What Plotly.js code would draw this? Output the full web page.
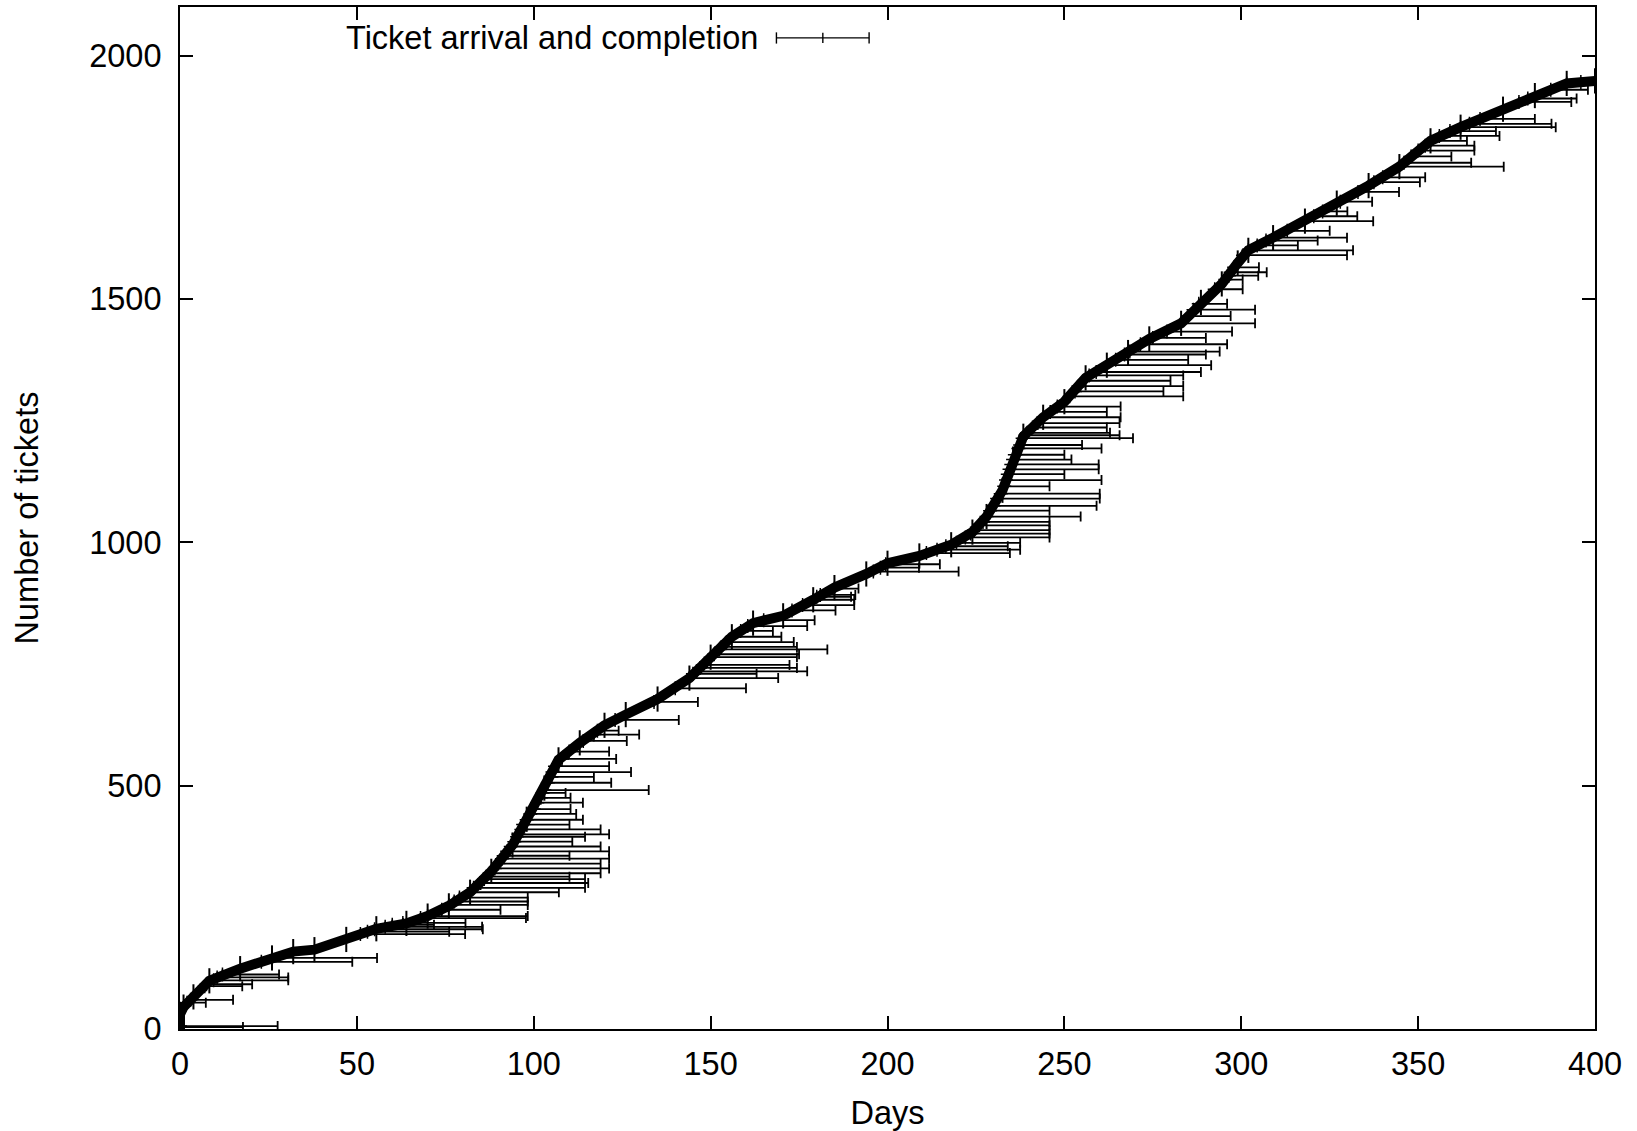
<!DOCTYPE html>
<html>
<head>
<meta charset="utf-8">
<script src="https://cdn.plot.ly/plotly-3.0.1.min.js"></script>
<style>html,body{margin:0;padding:0;background:#fff;}#chart{width:1637px;height:1131px;}</style>
</head>
<body>
<div id="chart"></div>
<script>
// Arrival curve (day, cumulative ticket number)
const curveDay = [0, 0, 1, 3.8, 8.3, 17, 26, 32, 38, 47, 55.5, 64, 70, 76, 82, 88, 94, 98, 103, 107, 113, 120, 126, 135, 144, 150, 156, 162, 170.5, 179, 185, 194, 200, 209, 218, 224, 228, 232.5, 235.5, 238.4, 244, 250, 256, 262, 268, 274, 283, 288.6, 294.5, 299, 302, 309, 318, 327, 336, 344.7, 353.5, 362, 374, 383, 392, 400];
const curveCount = [0, 30, 45, 66, 99, 124, 146, 159, 163, 184, 206, 217, 232, 253, 281, 324, 378, 431, 495, 553, 588, 624, 646, 678, 721, 764, 806, 834, 849, 882, 907, 935, 957, 972, 995, 1021, 1053, 1107, 1171, 1218, 1257, 1289, 1338, 1364, 1390, 1418, 1450, 1493, 1531, 1574, 1600, 1626, 1660, 1697, 1733, 1772, 1825, 1853, 1890, 1918, 1943, 1948];

// Long-lived tickets: ticket number, arrival day, completion day
const barTicket = [4, 6, 54, 60, 88, 92, 100, 106, 112, 138, 146, 195, 200, 205, 214, 218, 210, 228, 232, 245, 255, 262, 270, 281, 290, 300, 308, 313, 320, 330, 340, 350, 356, 365, 375, 385, 395, 400, 410, 420, 430, 442, 452, 465, 475, 485, 491, 506, 518, 528, 540, 555, 570, 592, 605, 613, 635, 672, 700, 721, 730, 735, 742, 748, 764, 770, 780, 785, 795, 806, 818, 828, 840, 860, 871, 882, 888, 892, 905, 940, 948, 955, 978, 985, 992, 999, 1010, 1018, 1025, 1035, 1042, 1053, 1065, 1075, 1090, 1100, 1115, 1128, 1140, 1150, 1160, 1170, 1180, 1193, 1200, 1214, 1220, 1225, 1236, 1245, 1257, 1268, 1279, 1300, 1310, 1321, 1332, 1343, 1350, 1364, 1375, 1386, 1392, 1407, 1420, 1433, 1450, 1465, 1478, 1490, 1520, 1540, 1548, 1555, 1565, 1590, 1600, 1610, 1620, 1626, 1640, 1660, 1670, 1680, 1700, 1720, 1740, 1750, 1772, 1780, 1793, 1805, 1815, 1825, 1835, 1845, 1853, 1860, 1870, 1905, 1912, 1930, 1943, 1946];
const barOpen = [0, 0, 2, 3, 7, 7.5, 9.5, 10.5, 12, 23, 26, 51, 53, 55, 60, 63, 58, 68, 70, 74, 76, 77.5, 79, 82, 83, 85, 86, 86.5, 87.5, 89, 90, 91, 91.5, 92.5, 93.5, 94.5, 95.3, 95.7, 96.5, 97, 98, 99, 100, 101, 102, 102.5, 103, 104, 105, 105.3, 106, 108, 110, 114, 117, 118, 123, 134, 140, 144, 145, 146, 147, 148, 150, 151, 152.5, 153, 154.5, 156, 158.5, 160.5, 165, 173, 176, 179, 180, 181, 185, 196, 198, 199.5, 211, 214, 216.5, 219.5, 222, 223.5, 224.5, 226, 227, 228, 229, 230, 231, 232, 233, 233.5, 234, 234.5, 235, 235.5, 236, 237, 237.5, 238.2, 239, 239.5, 241, 242.5, 244, 246, 248, 251.5, 253, 254, 255.5, 257, 259, 262, 264.5, 267, 268.5, 271.5, 275, 279, 283, 285, 286.5, 288, 292.5, 295.5, 296.5, 297, 298, 300.5, 302, 304.5, 307, 309, 313, 318, 320.5, 323, 328, 333, 337.5, 340, 344.7, 346, 348, 350, 352, 353.5, 356, 359, 362, 364.5, 367.5, 378.5, 381, 387.5, 392, 396];
const barClose = [17.8, 27.6, 7.3, 15, 17.6, 20.4, 30.6, 30.6, 28, 48.7, 55.7, 80.6, 76.1, 85.6, 71.8, 80.7, 85.4, 97.8, 98.3, 90.6, 98.3, 98.3, 98.3, 107.1, 114.5, 115.4, 114.5, 110.1, 118.9, 121.3, 118.9, 121.3, 110.1, 121.3, 118.9, 110.9, 114.5, 121.3, 118.9, 110.1, 113.9, 112, 110.4, 113.9, 110.4, 109, 132.5, 121.9, 117, 127.5, 121.3, 123.3, 121.3, 126.3, 129.8, 124, 141, 146.4, 160, 169.1, 163, 177.3, 174.4, 172.3, 174.4, 175, 183, 174.4, 173.5, 170, 167.6, 177.3, 179.4, 185.3, 190.6, 190.6, 189.7, 190.9, 191.8, 220.1, 208.9, 214.8, 234.6, 237.5, 234, 237.5, 245.8, 245.8, 245.8, 245.8, 245.8, 254.6, 245.8, 259.1, 260, 260, 245.8, 260.5, 250, 259.7, 259.7, 252, 250, 260.5, 255, 269.4, 265.6, 262.9, 262, 265.6, 265.9, 262, 265.9, 283.6, 278, 283.6, 280, 283.6, 288.6, 291.5, 285, 290, 293.9, 296, 290, 297.4, 303.9, 297, 303.9, 296, 300.4, 300.4, 304.8, 307.2, 305, 329.9, 331.6, 316, 321.6, 329.9, 325, 337.3, 332.8, 330, 337, 344.6, 350.5, 352, 374.2, 365, 359.4, 365.9, 365.9, 363.8, 373, 372, 388.9, 387.7, 383, 393.3, 394.8, 398, 400.7, 400];

const xTicks = [0, 50, 100, 150, 200, 250, 300, 350, 400];
const yTicks = [0, 500, 1000, 1500, 2000];

const FONT = 'Liberation Sans, Arial, sans-serif';
const FS = 32.5;

const traces = [
  {
    x: curveDay, y: curveCount, type: 'scatter', mode: 'lines+markers',
    line: {color: '#000', width: 10},
    marker: {symbol: 'line-ns-open', size: 18, line: {color: '#000', width: 2}},
    showlegend: false, hoverinfo: 'x+y'
  },
  {
    x: barOpen, y: barTicket, type: 'scatter', mode: 'markers',
    marker: {symbol: 'cross-thin-open', size: 10, color: '#000', line: {color: '#000', width: 1.5}},
    error_x: {
      type: 'data', symmetric: false,
      array: barClose.map((c, i) => c - barOpen[i]),
      arrayminus: barClose.map(() => 0),
      color: '#000', thickness: 1.8, width: 5
    },
    showlegend: false
  }
];

// legend geometry in paper coordinates
const lgY = 0.9697, lgX0 = 0.4215, lgX1 = 0.4870, lgXm = 0.4543;
const shapes = [
  {type: 'line', xref: 'paper', yref: 'paper', x0: lgX0, x1: lgX1, y0: lgY, y1: lgY, line: {color: '#000', width: 1.2}},
  {type: 'line', xref: 'paper', yref: 'paper', x0: lgX0, x1: lgX0, y0: lgY - 0.0055, y1: lgY + 0.0055, line: {color: '#000', width: 1.4}},
  {type: 'line', xref: 'paper', yref: 'paper', x0: lgX1, x1: lgX1, y0: lgY - 0.0055, y1: lgY + 0.0055, line: {color: '#000', width: 1.4}},
  {type: 'line', xref: 'paper', yref: 'paper', x0: lgXm, x1: lgXm, y0: lgY - 0.005, y1: lgY + 0.005, line: {color: '#000', width: 1.4}}
];

const axisCommon = {
  showline: true, linewidth: 2, linecolor: '#000', mirror: 'allticks',
  ticks: 'inside', ticklen: 13, tickwidth: 2, tickcolor: '#000',
  showgrid: false, zeroline: false,
  tickfont: {family: FONT, size: FS, color: '#000'}
};

const layout = {
  width: 1637, height: 1131,
  margin: {l: 180, r: 42, t: 7, b: 102, pad: 0},
  paper_bgcolor: '#fff', plot_bgcolor: '#fff',
  font: {family: FONT, size: FS, color: '#000'},
  showlegend: false,
  xaxis: Object.assign({}, axisCommon, {
    range: [0, 400], tickvals: xTicks, ticktext: xTicks.map(String),
    ticklabelstandoff: 5,
    title: {text: 'Days', font: {family: FONT, size: FS, color: '#000'}, standoff: 20}
  }),
  yaxis: Object.assign({}, axisCommon, {
    range: [0, 2100], tickvals: yTicks, ticktext: yTicks.map(String),
    ticklabelstandoff: 10,
    title: {text: 'Number of tickets', font: {family: FONT, size: FS, color: '#000'}, standoff: 41}
  }),
  shapes: shapes,
  annotations: [{
    text: 'Ticket arrival and completion', xref: 'paper', yref: 'paper',
    x: 0.4098, y: lgY, xanchor: 'right', yanchor: 'middle', showarrow: false,
    font: {family: FONT, size: FS, color: '#000'}
  }]
};

Plotly.newPlot('chart', traces, layout, {staticPlot: true, displayModeBar: false});
</script>
</body>
</html>
